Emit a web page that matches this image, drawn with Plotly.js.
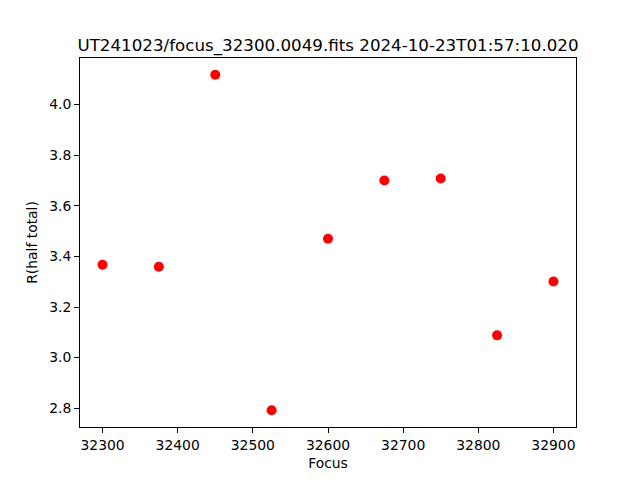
<!DOCTYPE html>
<html>
<head>
<meta charset="utf-8">
<script src="https://cdn.plot.ly/plotly-3.0.1.min.js"></script>
<style>html,body{margin:0;padding:0;background:#fff;}</style>
</head>
<body>
<div id="chart" style="width:640px;height:480px;"></div>
<script>
const focus = [32300, 32375, 32450, 32525, 32600, 32675, 32750, 32825, 32900];
const rHalfTotal = [3.367, 3.359, 4.118, 2.792, 3.470, 3.700, 3.708, 3.088, 3.301];
const titleText = "UT241023/focus_32300.0049.fits 2024-10-23T01:57:10.020";

const font = {family: "DejaVu Sans", size: 13.9, color: "#000"};
const axisCommon = {
  showline: true, linecolor: "#000", linewidth: 1, mirror: true,
  ticks: "outside", ticklen: 4.9, tickwidth: 1, tickcolor: "#000",
  showgrid: false, zeroline: false, tickfont: font
};

Plotly.newPlot("chart", [{
  x: focus, y: rHalfTotal, type: "scatter", mode: "markers",
  marker: {color: "#ff0000", size: 10}
}], {
  width: 640, height: 480,
  margin: {l: 80, r: 64, t: 58, b: 53},
  paper_bgcolor: "#fff", plot_bgcolor: "#fff",
  font: font,
  showlegend: false,
  title: {text: titleText, font: {family: "DejaVu Sans", size: 16.7, color: "#000"},
          x: 0.5, xanchor: "center", xref: "paper", y: 1, yref: "paper", yanchor: "bottom", pad: {b: 7}},
  xaxis: Object.assign({}, axisCommon, {
    range: [32270, 32930], tickmode: "linear", tick0: 32300, dtick: 100, tickformat: "d",
    title: {text: "Focus", font: font, standoff: 6}
  }),
  yaxis: Object.assign({}, axisCommon, {
    range: [2.7257, 4.1843], tickmode: "linear", tick0: 2.8, dtick: 0.2, tickformat: ".1f",
    title: {text: "R(half total)", font: font, standoff: 8}
  })
}, {staticPlot: true, displayModeBar: false});
</script>
</body>
</html>
